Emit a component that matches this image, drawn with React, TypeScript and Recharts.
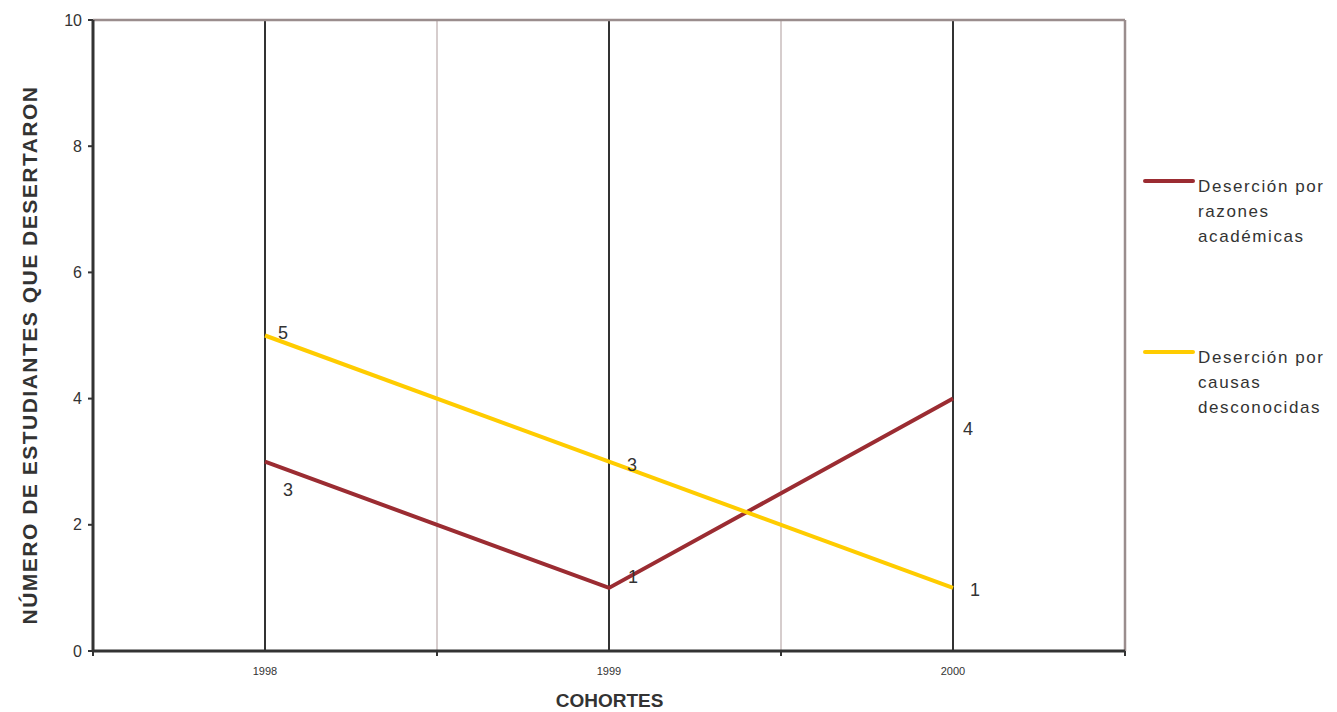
import React from 'react';
import {
  ComposedChart,
  Line,
  XAxis,
  YAxis,
  ReferenceLine,
  LabelList,
  Legend,
} from 'recharts';

const cohortes = ['1998', '1999', '2000'];
const razonesAcademicas = [3, 1, 4];
const causasDesconocidas = [5, 3, 1];
const yTicks = [0, 2, 4, 6, 8, 10];

const series = [
  { key: 'academicas', name: 'Deserción por razones académicas', color: '#9b2c32' },
  { key: 'desconocidas', name: 'Deserción por causas desconocidas', color: '#ffcc00' },
];

// x positions: centre of each cohort band on a 0..n numeric axis
const data = cohortes.map((c, i) => ({
  x: i + 0.5,
  cohorte: c,
  academicas: razonesAcademicas[i],
  desconocidas: causasDesconocidas[i],
}));

const bandEdges = cohortes.map((_, i) => i).concat(cohortes.length);
const xTicks = bandEdges.concat(data.map((d) => d.x)).sort((a, b) => a - b);

const FONT = '"Liberation Sans", Arial, sans-serif';
const TEXT = '#333333';

// label offsets (style only)
const labelOffsets: Record<string, [number, number][]> = {
  academicas: [[23, 28], [24, -11], [15, 30]],
  desconocidas: [[18, -3], [23, 3], [22, 2]],
};

const XTick = (props: any) => {
  const { x, y, payload } = props;
  const v = payload.value;
  if (Number.isInteger(v)) {
    return <line x1={x} y1={y} x2={x} y2={y + 5} stroke="#333" strokeWidth={2} />;
  }
  const idx = Math.floor(v);
  return (
    <text x={x} y={y + 24} textAnchor="middle" fontSize={11} fill={TEXT} fontFamily={FONT}>
      {cohortes[idx]}
    </text>
  );
};

const makeLabel = (key: string) => (props: any) => {
  const { x, y, value, index } = props;
  const [dx, dy] = labelOffsets[key][index];
  return (
    <text
      x={x + dx}
      y={y + dy}
      dy="0.36em"
      textAnchor="middle"
      fontSize={18}
      fill={TEXT}
      fontFamily={FONT}
    >
      {value}
    </text>
  );
};

const LegendContent = () => (
  <div style={{ position: 'relative', fontFamily: FONT, color: TEXT }}>
    {series.map((s, i) => (
      <div
        key={s.key}
        style={{ position: 'absolute', left: 0, top: i * 171, display: 'flex', alignItems: 'flex-start' }}
      >
        <div
          style={{
            width: 52,
            height: 4,
            marginTop: 5,
            background: s.color,
            borderRadius: 2,
            flex: 'none',
          }}
        />
        <div
          style={{
            marginLeft: 3,
            width: 145,
            fontSize: 17,
            lineHeight: '25px',
            letterSpacing: 1.6,
            textAlign: 'left',
          }}
        >
          {s.name}
        </div>
      </div>
    ))}
  </div>
);

export default function App() {
  return (
    <div style={{ width: 1329, height: 704, fontFamily: FONT }}>
      <ComposedChart
        width={1329}
        height={704}
        data={data}
        margin={{ top: 12, right: 212, bottom: 21, left: 0 }}
      >
        <XAxis
          dataKey="x"
          type="number"
          domain={[0, cohortes.length]}
          ticks={xTicks}
          interval={0}
          tickSize={0}
          tickMargin={0}
          tickLine={false}
          tick={<XTick />}
          height={40}
          axisLine={{ stroke: '#333', strokeWidth: 3 }}
          label={{
            content: () => (
              <text
                x={601.5}
                y={699}
                textAnchor="middle"
                fontSize={19}
                fontWeight="bold"
                fill={TEXT}
                fontFamily={FONT}
              >
                COHORTES
              </text>
            ),
          }}
        />
        <YAxis
          type="number"
          domain={[0, 10]}
          ticks={yTicks}
          interval={0}
          width={85}
          tickSize={5}
          tickMargin={6}
          axisLine={{ stroke: '#333', strokeWidth: 3 }}
          tickLine={{ stroke: '#333', strokeWidth: 2 }}
          tick={{ fontSize: 16, fill: TEXT, fontFamily: FONT }}
          label={{
            content: () => (
              <text
                x={29}
                y={347}
                transform="rotate(-90 29 347)"
                textAnchor="middle"
                fontSize={21}
                fontWeight="bold"
                letterSpacing={1.5}
                fill={TEXT}
                fontFamily={FONT}
              >
                NÚMERO DE ESTUDIANTES QUE DESERTARON
              </text>
            ),
          }}
        />
        {bandEdges.slice(1, -1).map((e) => (
          <ReferenceLine key={`e${e}`} x={e} stroke="#c8bcbc" strokeWidth={1.5} />
        ))}
        {data.map((d) => (
          <ReferenceLine key={`c${d.x}`} x={d.x} stroke="#333" strokeWidth={2} />
        ))}
        <ReferenceLine y={10} stroke="#9a8d8d" strokeWidth={2.5} />
        <ReferenceLine x={cohortes.length} stroke="#9a8d8d" strokeWidth={2.5} />
        <Legend
          layout="vertical"
          align="center"
          verticalAlign="middle"
          content={<LegendContent />}
          wrapperStyle={{ left: 1135, top: 166, width: 200, height: 250 }}
        />
        {series.map((s) => (
          <Line
            key={s.key}
            dataKey={s.key}
            name={s.name}
            type="linear"
            stroke={s.color}
            strokeWidth={4}
            dot={false}
            activeDot={false}
            isAnimationActive={false}
          >
            <LabelList dataKey={s.key} content={makeLabel(s.key)} />
          </Line>
        ))}
      </ComposedChart>
    </div>
  );
}
